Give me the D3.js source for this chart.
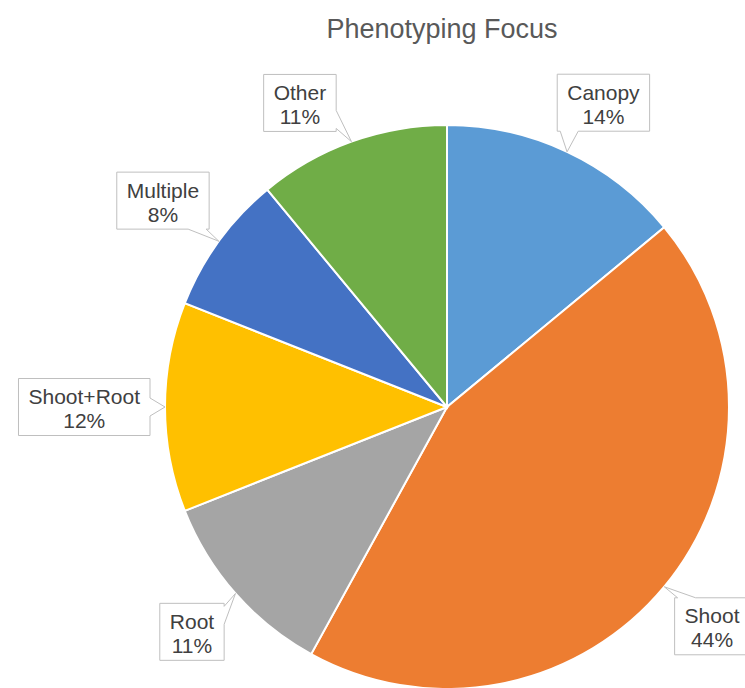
<!DOCTYPE html>
<html>
<head>
<meta charset="utf-8">
<script src="https://cdn.jsdelivr.net/npm/d3@7"></script>
<style>
  body { margin: 0; background: #fff; overflow: hidden; }
  text { font-family: "Liberation Sans", Arial, sans-serif; }
</style>
</head>
<body>
<div id="viz"></div>
<script>
//-------Data-----------
var categories = ["Canopy", "Shoot", "Root", "Shoot+Root", "Multiple", "Other"];
var percents = [14, 44, 11, 12, 8, 11];
var colors = ["#5B9BD5", "#ED7D31", "#A5A5A5", "#FFC000", "#4472C4", "#70AD47"];
var chartTitle = "Phenotyping Focus";

//---------------------------------
var width = 745,
    height = 688;
var cx = 447, cy = 407, radius = 282;
var labelGap = 15, lineHeight = 24, padX = 10, boxH = 57;
var labelTop = 74 - cy;   // keep callouts clear of the title

var svg = d3.select("#viz")
  .append("svg")
    .attr("width", width)
    .attr("height", height);

svg.append("text")
    .attr("x", 442)
    .attr("y", 38)
    .attr("text-anchor", "middle")
    .style("font-size", "27px")
    .style("fill", "#595959")
    .text(chartTitle);

var container = svg.append("g").attr("transform", "translate(" + cx + "," + cy + ")");

//------Pie-----------
var pie = d3.pie().sort(null).value(d => d);
var arcs = pie(percents);

var arc = d3.arc().innerRadius(0).outerRadius(radius);

container.append("g")
    .selectAll("path")
    .data(arcs)
    .enter()
    .append("path")
    .attr("d", arc)
    .style("fill", (d, i) => colors[i])
    .style("stroke", "#fff")
    .style("stroke-width", "2px");

//------Callout labels-----------
function clamp(v, a, b) { return Math.max(a, Math.min(b, v)); }

function boxDist(x, y, w, h) {
    var dx = Math.max(Math.abs(x) - w / 2, 0);
    var dy = Math.max(Math.abs(y) - h / 2, 0);
    return Math.sqrt(dx * dx + dy * dy);
}

// box centre along angle a, just clear of the pie
function placeBox(a, w, h) {
    var ux = Math.sin(a), uy = -Math.cos(a);
    var lo = 0, hi = 1000;
    for (var k = 0; k < 60; k++) {
        var t = (lo + hi) / 2;
        if (boxDist(t * ux, t * uy, w, h) < radius + labelGap) lo = t; else hi = t;
    }
    return [hi * ux, hi * uy];
}

function calloutPath(x0, y0, x1, y1, tip, side) {
    var hw = 9, m = hw + 3, c, p = [];
    p.push([x0, y0]);
    if (side === "top") { c = clamp(tip[0], x0 + m, x1 - m); p.push([c - hw, y0], tip, [c + hw, y0]); }
    p.push([x1, y0]);
    if (side === "right") { c = clamp(tip[1], y0 + m, y1 - m); p.push([x1, c - hw], tip, [x1, c + hw]); }
    p.push([x1, y1]);
    if (side === "bottom") { c = clamp(tip[0], x0 + m, x1 - m); p.push([c + hw, y1], tip, [c - hw, y1]); }
    p.push([x0, y1]);
    if (side === "left") { c = clamp(tip[1], y0 + m, y1 - m); p.push([x0, c + hw], tip, [x0, c - hw]); }
    return "M" + p.map(q => q[0] + "," + q[1]).join("L") + "Z";
}

var labels = container.append("g").attr("id", "labels");

arcs.forEach(function(d, i) {
    var g = labels.append("g");
    var path = g.append("path")
        .style("fill", "#fff")
        .style("stroke", "#bfbfbf")
        .style("stroke-width", "1px");
    var lines = [categories[i], d.value + "%"];
    var texts = g.selectAll("text")
        .data(lines)
        .enter()
        .append("text")
        .attr("text-anchor", "middle")
        .style("font-size", "21px")
        .style("fill", "#404040")
        .text(t => t);
    var tw = 0;
    texts.each(function() { tw = Math.max(tw, this.getComputedTextLength()); });
    var w = tw + 2 * padX, h = boxH;

    var mid = (d.startAngle + d.endAngle) / 2;
    var a = mid, step = Math.sin(mid) >= 0 ? 0.005 : -0.005;
    var c = placeBox(a, w, h);
    while (c[1] - h / 2 < labelTop && Math.abs(a - mid) < 1) {
        a += step;
        c = placeBox(a, w, h);
    }
    var bx = c[0], by = c[1];
    var x0 = bx - w / 2, x1 = bx + w / 2, y0 = by - h / 2, y1 = by + h / 2;
    var tip = [radius * Math.sin(mid), -radius * Math.cos(mid)];

    var outX = tip[0] > x1 ? tip[0] - x1 : (tip[0] < x0 ? x0 - tip[0] : 0);
    var outY = tip[1] > y1 ? tip[1] - y1 : (tip[1] < y0 ? y0 - tip[1] : 0);
    var side;
    if (outX > outY) side = tip[0] > x1 ? "right" : "left";
    else side = tip[1] > y1 ? "bottom" : "top";

    path.attr("d", calloutPath(x0, y0, x1, y1, tip, side));
    texts.attr("x", bx)
        .attr("y", (t, j) => by - 3 + j * lineHeight);
});
</script>
</body>
</html>
